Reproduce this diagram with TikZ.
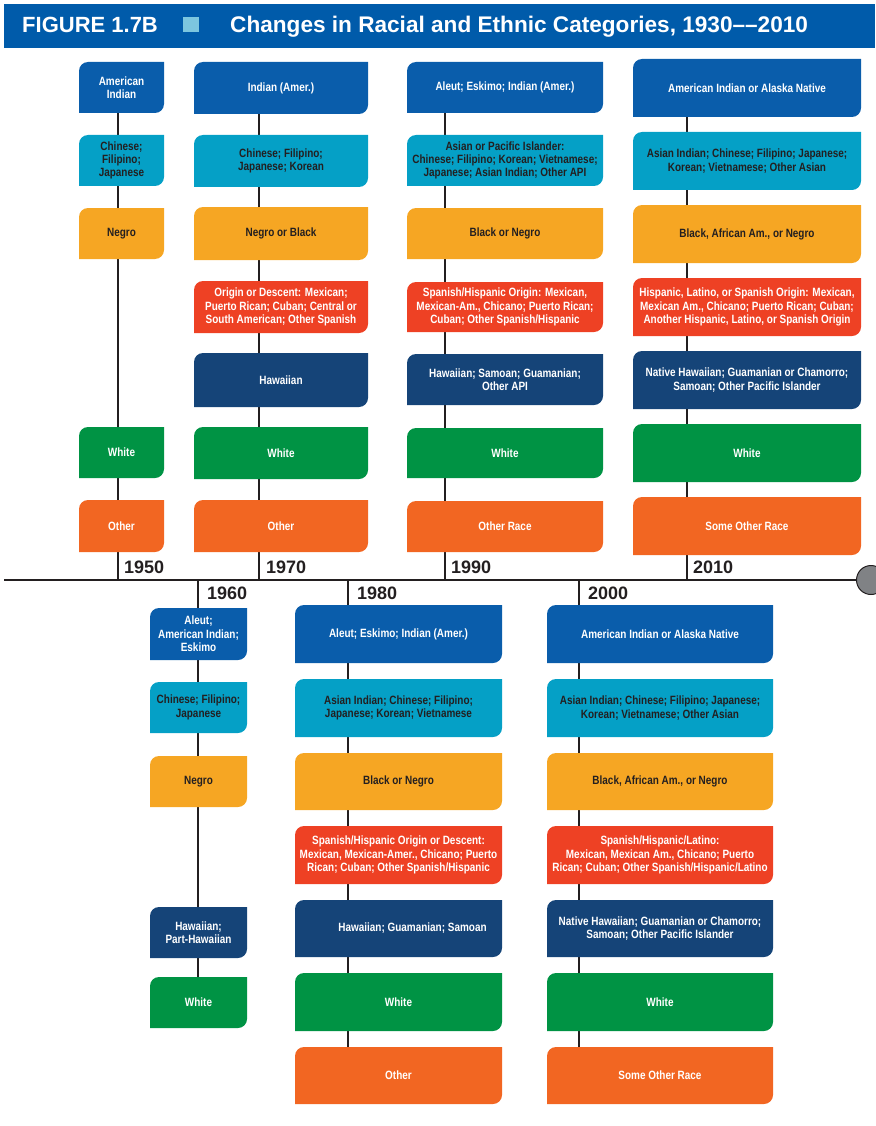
\documentclass[tikz,border=0pt]{standalone}
\usepackage{fontspec}
\setmainfont{Liberation Sans}
\newfontfamily\condfont{Liberation Sans}[FakeStretch=0.83]
\usetikzlibrary{backgrounds}

\definecolor{hdrblue}{HTML}{005BAA}
\definecolor{hdrsq}{HTML}{7CC6DF}
\definecolor{cblue}{HTML}{0A5DAB}
\definecolor{ccyan}{HTML}{05A0C6}
\definecolor{cgold}{HTML}{F6A623}
\definecolor{cred}{HTML}{EE4124}
\definecolor{cnavy}{HTML}{154478}
\definecolor{cgreen}{HTML}{009344}
\definecolor{corange}{HTML}{F26622}
\definecolor{cdark}{HTML}{231F20}
\definecolor{cgray}{HTML}{808285}

\tikzset{
  catbox/.style={inner sep=0pt, align=center,
    font=\condfont\bfseries\fontsize{12}{13.3}\selectfont,
    path picture={\fill[#1]
      ([yshift=-9pt]path picture bounding box.north west)
        arc[start angle=180, end angle=90, radius=9pt]
      -- (path picture bounding box.north east)
      -- ([yshift=9pt]path picture bounding box.south east)
        arc[start angle=0, end angle=-90, radius=9pt]
      -- (path picture bounding box.south west) -- cycle;}},
  bluebox/.style={catbox=cblue, text=white},
  cyanbox/.style={catbox=ccyan, text=cdark},
  goldbox/.style={catbox=cgold, text=cdark},
  redbox/.style={catbox=cred, text=white},
  navybox/.style={catbox=cnavy, text=white},
  greenbox/.style={catbox=cgreen, text=white},
  orangebox/.style={catbox=corange, text=white},
  conn/.style={draw=cdark, line width=2.8pt},
  yearlbl/.style={inner sep=0pt, text=cdark, font=\bfseries\fontsize{18}{20}\selectfont},
  headtxt/.style={inner sep=0pt, anchor=base west, text=white},
}

% #1 name, #2 left, #3 top, #4 right, #5 bottom, #6 style, #7 text
\newcommand\catnode[7]{%
  \node[#6, minimum width={(#4)-(#2)}, minimum height={(#5)-(#3)}]
    (#1) at ({((#2)+(#4))/2},{-((#3)+(#5))/2}) {#7};}

\begin{document}
\begin{tikzpicture}[x=1pt, y=1pt]
\useasboundingbox (0,0) rectangle (875,-1126);

% title bar
\fill[hdrblue] (4,-4) rectangle (875,-48);
\node[headtxt, font=\bfseries\fontsize{22}{24}\selectfont] (fig) at (22,-33) {FIGURE 1.7B};
\fill[hdrsq] (183,-17) rectangle (199,-32);
\node[headtxt, font=\bfseries\fontsize{22.6}{24}\selectfont] (title) at (230,-33)
      {Changes in Racial and Ethnic Categories, 1930––2010};

% timeline ticks
\coordinate (tl0) at (4,-580);
\coordinate (t1950) at (118,-580);
\coordinate (t1960) at (198,-580);
\coordinate (t1970) at (259,-580);
\coordinate (t1980) at (348,-580);
\coordinate (t1990) at (445,-580);
\coordinate (t2000) at (579,-580);
\coordinate (t2010) at (687,-580);
\node[circle, fill=cgray, draw=cdark, line width=1pt, minimum size=29pt, inner sep=0pt] (tlend) at (871,-580) {};

% 1950
\catnode{a50}{79}{62}{164}{113}{bluebox}{American\\Indian}
\catnode{b50}{79}{135}{164}{186}{cyanbox}{Chinese;\\Filipino;\\Japanese}
\catnode{c50}{79}{208}{164}{259}{goldbox}{Negro}
\catnode{f50}{79}{427}{164}{478}{greenbox}{White}
\catnode{g50}{79}{500}{164}{552}{orangebox}{Other}

% 1970
\catnode{a70}{194}{62}{368}{114}{bluebox}{Indian (Amer.)}
\catnode{b70}{194}{135}{368}{187}{cyanbox}{Chinese; Filipino;\\Japanese; Korean}
\catnode{c70}{194}{207}{368}{260}{goldbox}{Negro or Black}
\catnode{d70}{194}{281}{368}{333}{redbox}{Origin or Descent: Mexican;\\Puerto Rican; Cuban; Central or\\South American; Other Spanish}
\catnode{e70}{194}{353}{368}{407}{navybox}{Hawaiian}
\catnode{f70}{194}{427}{368}{479}{greenbox}{White}
\catnode{g70}{194}{500}{368}{552}{orangebox}{Other}

% 1990
\catnode{a90}{407}{62}{603}{113}{bluebox}{Aleut; Eskimo; Indian (Amer.)}
\catnode{b90}{407}{135}{603}{186}{cyanbox}{Asian or Pacific Islander:\\Chinese; Filipino; Korean; Vietnamese;\\Japanese; Asian Indian; Other API}
\catnode{c90}{407}{208}{603}{259}{goldbox}{Black or Negro}
\catnode{d90}{407}{282}{603}{332}{redbox}{Spanish/Hispanic Origin: Mexican,\\Mexican-Am., Chicano; Puerto Rican;\\Cuban; Other Spanish/Hispanic}
\catnode{e90}{407}{354}{603}{405}{navybox}{Hawaiian; Samoan; Guamanian;\\Other API}
\catnode{f90}{407}{428}{603}{478}{greenbox}{White}
\catnode{g90}{407}{501}{603}{552}{orangebox}{Other Race}

% 2010
\catnode{a10}{633}{59}{861}{117}{bluebox}{American Indian or Alaska Native}
\catnode{b10}{633}{132}{861}{190}{cyanbox}{Asian Indian; Chinese; Filipino; Japanese;\\Korean; Vietnamese; Other Asian}
\catnode{c10}{633}{205}{861}{263}{goldbox}{Black, African Am., or Negro}
\catnode{d10}{633}{278}{861}{336}{redbox}{Hispanic, Latino, or Spanish Origin: Mexican,\\Mexican Am., Chicano; Puerto Rican; Cuban;\\Another Hispanic, Latino, or Spanish Origin}
\catnode{e10}{633}{351}{861}{409}{navybox}{Native Hawaiian; Guamanian or Chamorro;\\Samoan; Other Pacific Islander}
\catnode{f10}{633}{424}{861}{482}{greenbox}{White}
\catnode{g10}{633}{497}{861}{555}{orangebox}{Some Other Race}

% 1960
\catnode{a60}{150}{608}{247}{660}{bluebox}{Aleut;\\American Indian;\\Eskimo}
\catnode{b60}{150}{682}{247}{733}{cyanbox}{Chinese; Filipino;\\Japanese}
\catnode{c60}{150}{756}{247}{807}{goldbox}{Negro}
\catnode{e60}{150}{907}{247}{958}{navybox}{Hawaiian;\\Part-Hawaiian}
\catnode{f60}{150}{977}{247}{1028}{greenbox}{White}

% 1980
\catnode{a80}{295}{605}{502}{663}{bluebox}{Aleut; Eskimo; Indian (Amer.)}
\catnode{b80}{295}{679}{502}{737}{cyanbox}{Asian Indian; Chinese; Filipino;\\Japanese; Korean; Vietnamese}
\catnode{c80}{295}{753}{502}{810}{goldbox}{Black or Negro}
\catnode{d80}{295}{826}{502}{884}{redbox}{Spanish/Hispanic Origin or Descent:\\Mexican, Mexican-Amer., Chicano; Puerto\\Rican; Cuban; Other Spanish/Hispanic}
\catnode{e80}{295}{900}{502}{957}{navybox}{\hspace*{28pt}Hawaiian; Guamanian; Samoan}
\catnode{f80}{295}{973}{502}{1031}{greenbox}{White}
\catnode{g80}{295}{1047}{502}{1104}{orangebox}{Other}

% 2000
\catnode{a00}{547}{605}{773}{663}{bluebox}{American Indian or Alaska Native}
\catnode{b00}{547}{679}{773}{737}{cyanbox}{Asian Indian; Chinese; Filipino; Japanese;\\Korean; Vietnamese; Other Asian}
\catnode{c00}{547}{753}{773}{810}{goldbox}{Black, African Am., or Negro}
\catnode{d00}{547}{826}{773}{884}{redbox}{Spanish/Hispanic/Latino:\\Mexican, Mexican Am., Chicano; Puerto\\Rican; Cuban; Other Spanish/Hispanic/Latino}
\catnode{e00}{547}{900}{773}{957}{navybox}{Native Hawaiian; Guamanian or Chamorro;\\Samoan; Other Pacific Islander}
\catnode{f00}{547}{973}{773}{1031}{greenbox}{White}
\catnode{g00}{547}{1047}{773}{1104}{orangebox}{Some Other Race}

% year labels
\node[yearlbl, anchor=base west] (y1950) at ([xshift=6pt,yshift=7pt]t1950) {1950};
\node[yearlbl, anchor=base west] (y1970) at ([xshift=7pt,yshift=7pt]t1970) {1970};
\node[yearlbl, anchor=base west] (y1990) at ([xshift=6pt,yshift=7pt]t1990) {1990};
\node[yearlbl, anchor=base west] (y2010) at ([xshift=6pt,yshift=7pt]t2010) {2010};
\node[yearlbl, anchor=base west] (y1960) at ([xshift=9pt,yshift=-19pt]t1960) {1960};
\node[yearlbl, anchor=base west] (y1980) at ([xshift=9pt,yshift=-19pt]t1980) {1980};
\node[yearlbl, anchor=base west] (y2000) at ([xshift=9pt,yshift=-19pt]t2000) {2000};

% connectors behind the boxes
\begin{scope}[on background layer]
  \draw[conn] (tl0) -- (tlend.west);
  \draw[conn] (t1950) -- (t1950 |- a50.center);
  \draw[conn] (t1970) -- (t1970 |- a70.center);
  \draw[conn] (t1990) -- (t1990 |- a90.center);
  \draw[conn] (t2010) -- (t2010 |- a10.center);
  \draw[conn] (t1960) -- (t1960 |- f60.center);
  \draw[conn] (t1980) -- (t1980 |- g80.center);
  \draw[conn] (t2000) -- (t2000 |- g00.center);
\end{scope}
\end{tikzpicture}
\end{document}
